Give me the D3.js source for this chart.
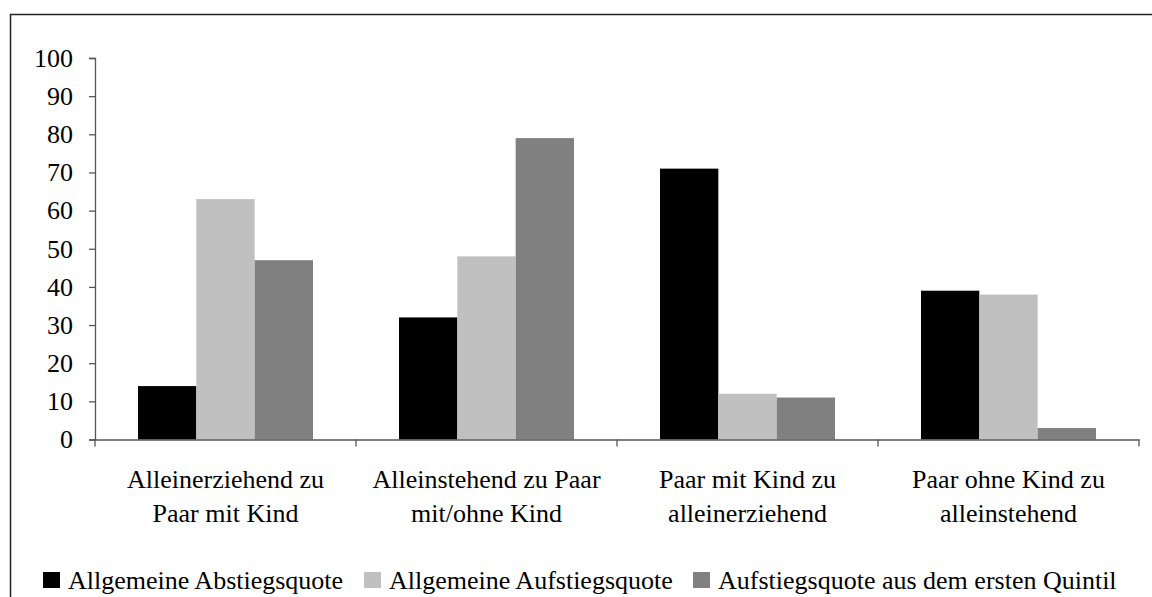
<!DOCTYPE html>
<html>
<head>
<meta charset="utf-8">
<script src="https://cdn.jsdelivr.net/npm/d3@7"></script>
<style>
  body { margin: 0; background: #fff; }
  svg { display: block; font-family: "Liberation Serif", "Times New Roman", serif; }
</style>
</head>
<body>
<div id="chart"></div>
<script>
const WIDTH = 1152;
const HEIGHT = 597;
const FONT_SIZE = 26;

const categories = [
    ["Alleinerziehend zu", "Paar mit Kind"],
    ["Alleinstehend zu Paar", "mit/ohne Kind"],
    ["Paar mit Kind zu", "alleinerziehend"],
    ["Paar ohne Kind zu", "alleinstehend"]
];
const seriesNames = [
    "Allgemeine Abstiegsquote",
    "Allgemeine Aufstiegsquote",
    "Aufstiegsquote aus dem ersten Quintil"
];
const abstieg = [14, 32, 71, 39];
const aufstieg = [63, 48, 12, 38];
const aufstiegQ1 = [47, 79, 11, 3];
const yTicks = [0, 10, 20, 30, 40, 50, 60, 70, 80, 90, 100];
const colors = ["#000000", "#c0c0c0", "#808080"];

const series = [abstieg, aufstieg, aufstiegQ1];

let svg = d3.select("#chart")
            .append("svg")
            .attr("width", WIDTH)
            .attr("height", HEIGHT);

// outer frame, runs off the right and bottom edge like the original
svg.append("rect")
    .attr("x", 10.5)
    .attr("y", 14.5)
    .attr("width", 1160)
    .attr("height", 600)
    .attr("fill", "none")
    .attr("stroke", "#222")
    .attr("stroke-width", 1.5);

const PLOT_LEFT = 95, PLOT_RIGHT = 1139, PLOT_TOP = 58, PLOT_BOTTOM = 439.5;

let x0 = d3.scaleBand()
    .domain(d3.range(categories.length))
    .range([PLOT_LEFT, PLOT_RIGHT]);

let x1 = d3.scaleBand()
    .domain(d3.range(series.length))
    .range([43, x0.bandwidth() - 43]);

let y = d3.scaleLinear()
    .domain([0, 100])
    .range([PLOT_BOTTOM, PLOT_TOP]);

// bars
for (let s = 0; s < series.length; s++) {
    svg.append("g")
        .selectAll("rect")
        .data(series[s])
        .join("rect")
        .attr("x", (d, i) => x0(i) + x1(s))
        .attr("y", d => y(d))
        .attr("width", x1.bandwidth())
        .attr("height", d => y(0) - y(d))
        .attr("fill", colors[s]);
}

// y axis
let yAxis = svg.append("g")
    .attr("transform", `translate(${PLOT_LEFT},0)`)
    .call(d3.axisLeft(y).tickValues(yTicks).tickSize(6).tickPadding(16));
yAxis.select(".domain").attr("stroke", "#555").attr("stroke-width", 1.3);
yAxis.selectAll(".tick line").attr("stroke", "#555").attr("stroke-width", 1.3);
yAxis.selectAll("text")
    .attr("font-family", "Liberation Serif")
    .attr("font-size", FONT_SIZE)
    .attr("fill", "#000");

// x axis
let xAxis = svg.append("g")
    .attr("transform", `translate(0,${PLOT_BOTTOM})`)
    .call(d3.axisBottom(x0).tickValues([]).tickSizeOuter(0));
xAxis.select(".domain").attr("stroke", "#555").attr("stroke-width", 1.3);

// category separators (left edge of each band plus the far right end)
const sepX = d3.range(categories.length).map(i => x0(i)).concat([x0.range()[1]]);
xAxis.selectAll("line.sep")
    .data(sepX)
    .join("line")
    .attr("class", "sep")
    .attr("x1", d => d)
    .attr("x2", d => d)
    .attr("y1", 0)
    .attr("y2", 7)
    .attr("stroke", "#555")
    .attr("stroke-width", 1.3);

// category labels
svg.append("g")
    .selectAll("text")
    .data(categories)
    .join("text")
    .attr("x", (d, i) => x0(i) + x0.bandwidth() / 2)
    .attr("y", 488)
    .attr("text-anchor", "middle")
    .attr("font-size", FONT_SIZE)
    .selectAll("tspan")
    .data(d => d)
    .join("tspan")
    .attr("x", function() { return this.parentNode.getAttribute("x"); })
    .attr("dy", (d, j) => j == 0 ? 0 : 34)
    .text(d => d);

// legend
const legendX = [43, 364, 693];
let legend = svg.append("g");
seriesNames.forEach((name, i) => {
    legend.append("rect")
        .attr("x", legendX[i])
        .attr("y", 572)
        .attr("width", 17)
        .attr("height", 16)
        .attr("fill", colors[i]);
    legend.append("text")
        .attr("x", legendX[i] + 25)
        .attr("y", 589)
        .attr("font-size", FONT_SIZE)
        .text(name);
});
</script>
</body>
</html>
